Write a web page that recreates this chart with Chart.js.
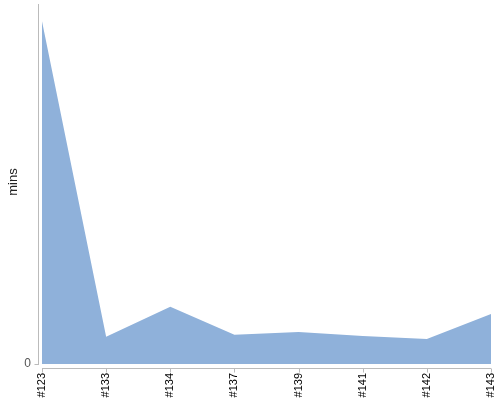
<!DOCTYPE html>
<html>
<head>
<meta charset="utf-8">
<script src="https://cdn.jsdelivr.net/npm/chart.js@4/dist/chart.umd.min.js"></script>
<style>
  html, body { margin: 0; padding: 0; background: #fff; }
  #wrap { width: 500px; height: 400px; }
</style>
</head>
<body>
<div id="wrap"><canvas id="buildGraph"></canvas></div>
<script>
// build numbers and their duration in minutes
var builds = ['#123', '#133', '#134', '#137', '#139', '#141', '#142', '#143'];
var mins = [56.5, 4.5, 9.45, 4.83, 5.27, 4.62, 4.12, 8.24];
var yTicks = [0];
var yMax = 60;

// nvd3-ish axis lines, sitting a few px away from the plot area
var axisLines = {
    id: 'axisLines',
    afterDraw: function(chart) {
        var ctx = chart.ctx;
        var area = chart.chartArea;
        var xs = chart.scales.x;
        var ys = chart.scales.y;
        var ax = area.left - 3.5;
        var ay = area.bottom + 4.5;
        ctx.save();
        ctx.strokeStyle = '#bbbbbb';
        ctx.lineWidth = 1;
        ctx.beginPath();
        ctx.moveTo(ax, 4);
        ctx.lineTo(ax, area.bottom + 1);
        yTicks.forEach(function(v) {
            var py = Math.round(ys.getPixelForValue(v)) + 0.5;
            ctx.moveTo(ax - 4, py);
            ctx.lineTo(ax, py);
        });
        ctx.moveTo(area.left, ay);
        ctx.lineTo(area.right, ay);
        builds.forEach(function(b, i) {
            var px = Math.round(xs.getPixelForValue(i)) + 0.5;
            ctx.moveTo(px, ay);
            ctx.lineTo(px, ay + 4);
        });
        ctx.stroke();
        ctx.restore();
    }
};

// drop the extra room chart.js keeps for the end labels
function noPad(scale) {
    scale.paddingLeft = 0;
    scale.paddingRight = 0;
    scale.paddingTop = 0;
    scale.paddingBottom = 0;
}

var buildConfig =
{
    type: 'line',
    data: {
        labels: builds,
        datasets: [{
            label: 'mins',
            data: mins,
            fill: 'origin',
            backgroundColor: 'rgb(143, 177, 218)',
            borderWidth: 0,
            pointRadius: 0,
            tension: 0
        }]
    },
    options: {
        responsive: true,
        maintainAspectRatio: false,
        animation: false,
        layout: {
            padding: { top: 0, right: 9, bottom: 0, left: 0 }
        },
        plugins: {
            legend: { display: false },
            tooltip: { enabled: false }
        },
        scales: {
            x: {
                grid: { display: false, drawTicks: false },
                border: { display: false },
                ticks: {
                    autoSkip: false,
                    minRotation: 90,
                    maxRotation: 90,
                    padding: 9,
                    color: '#000',
                    font: { family: 'Liberation Sans', size: 11 }
                },
                afterFit: function(scale) {
                    scale.height = 36;
                    noPad(scale);
                }
            },
            y: {
                min: 0,
                max: yMax,
                grid: { display: false, drawTicks: false },
                border: { display: false },
                afterBuildTicks: function(scale) {
                    scale.ticks = yTicks.map(function(v) { return { value: v }; });
                },
                ticks: {
                    padding: 11,
                    color: '#555',
                    font: { family: 'Liberation Sans', size: 12 }
                },
                title: {
                    display: true,
                    text: 'mins',
                    color: '#222',
                    padding: { top: 6, bottom: 0 },
                    font: { family: 'Liberation Sans', size: 13 }
                },
                afterFit: function(scale) {
                    scale.width = 42;
                    noPad(scale);
                }
            }
        }
    },
    plugins: [axisLines]
}

const buildCtx = document.getElementById('buildGraph');
const buildChart = new Chart(buildCtx, buildConfig);
</script>
</body>
</html>
